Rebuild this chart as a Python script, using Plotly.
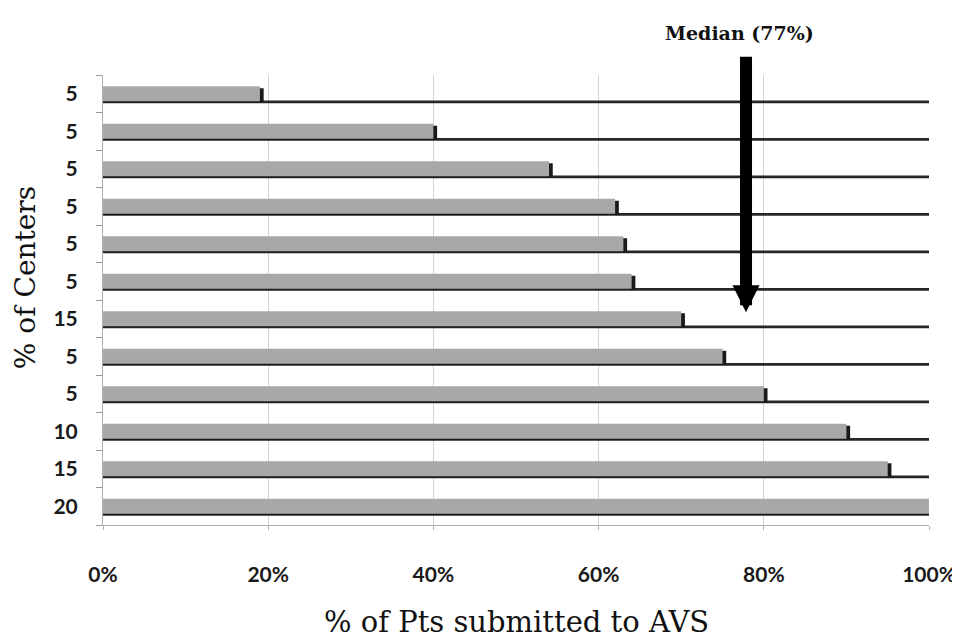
import plotly.graph_objects as go

# rows top to bottom
center_pct = ["5", "5", "5", "5", "5", "5", "15", "5", "5", "10", "15", "20"]
pts_to_avs = [19, 40, 54, 62, 63, 64, 70, 75, 80, 90, 95, 100]
x_ticks = [0, 20, 40, 60, 80, 100]
x_ticklabels = ["0%", "20%", "40%", "60%", "80%", "100%"]
median_pct = 77

rows = list(range(len(center_pct)))

fig = go.Figure()

# "floor" line under each bar, running the full width
fig.add_trace(go.Bar(
    x=[100] * len(rows), y=rows, orientation="h",
    width=0.07, offset=0.18,
    marker=dict(color="#262626", line=dict(width=0)),
    hoverinfo="skip",
))
# dark right-side shadow of each bar
fig.add_trace(go.Bar(
    x=[v + 0.45 for v in pts_to_avs], y=rows, orientation="h",
    width=0.38, offset=-0.15,
    marker=dict(color="#1a1a1a", line=dict(width=0)),
    hoverinfo="skip",
))
# gray bar face
fig.add_trace(go.Bar(
    x=pts_to_avs, y=rows, orientation="h",
    width=0.4, offset=-0.2,
    marker=dict(color="#a8a8a8", line=dict(width=0)),
))

fig.add_annotation(
    x=median_pct, xref="x", xshift=7, y=0.473, yref="paper",
    ax=0, ay=-257, text="", showarrow=True,
    arrowhead=2, arrowsize=0.45, arrowwidth=12, arrowcolor="#000000",
)
fig.add_annotation(
    x=median_pct, xref="x", y=1.122, yref="paper",
    text=f"<b>Median ({median_pct}%)</b>", showarrow=False,
    font=dict(family="DejaVu Serif", size=19, color="#111111"),
)
# axis titles as annotations (y title sits a bit above the middle)
fig.add_annotation(
    x=-0.093, xref="paper", y=0.549, yref="paper",
    xanchor="center", yanchor="middle",
    text="% of Centers", textangle=-90, showarrow=False,
    font=dict(family="DejaVu Serif", size=28, color="#111111"),
)
fig.add_annotation(
    x=0.5, xref="paper", y=-0.216, yref="paper",
    xanchor="center", yanchor="middle",
    text="% of Pts submitted to AVS", showarrow=False,
    font=dict(family="DejaVu Serif", size=29, color="#111111"),
)

tick_font = dict(family="Lato", size=21, color="#1a1a1a")

# page body has an 8px margin, so the figure is offset by it
fig.update_layout(
    barmode="overlay",
    showlegend=False,
    width=952, height=632,
    margin=dict(l=95, r=31, t=67, b=115),
    plot_bgcolor="#ffffff",
    paper_bgcolor="#ffffff",
    xaxis=dict(
        range=[0, 100], tickvals=x_ticks, automargin=False,
        ticktext=[f"<b>{t}</b>" for t in x_ticklabels],
        tickfont=tick_font,
        showgrid=True, gridcolor="#d4d4d4", gridwidth=1,
        showline=True, linecolor="#b0b0b0", linewidth=1,
        ticks="outside", ticklen=4, tickcolor="#b0b0b0",
        ticklabelstandoff=27, zeroline=False,
    ),
    yaxis=dict(
        range=[11.5, -0.5], tickvals=rows, automargin=False,
        ticktext=[f"<b>{c}</b>" for c in center_pct],
        tickfont=tick_font,
        showgrid=False, zeroline=False,
        showline=True, linecolor="#b0b0b0", linewidth=1,
        ticks="", ticklabelstandoff=20,
        minor=dict(ticks="outside", ticklen=6, tick0=0.5, dtick=1,
                   tickcolor="#999999", showgrid=False),
    ),
)

fig.write_html("out.html")
